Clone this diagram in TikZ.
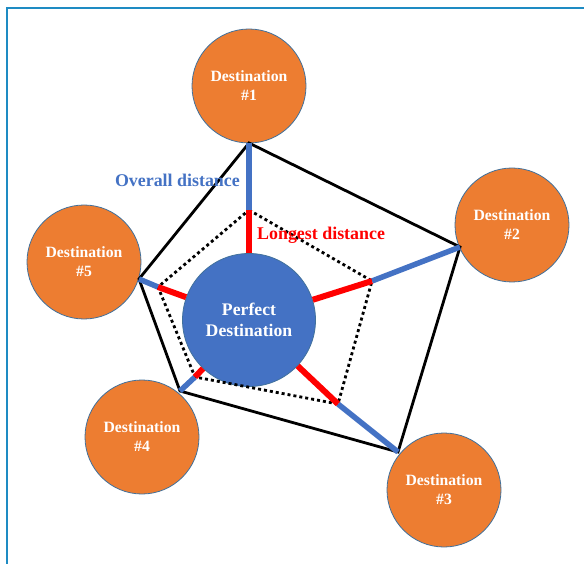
\documentclass[tikz,border=0pt]{standalone}
\usepackage{fontspec}
\setmainfont{Liberation Serif}
\usetikzlibrary{positioning}
\definecolor{destorange}{HTML}{ED7D31}
\definecolor{perfblue}{HTML}{4472C4}
\definecolor{rimblue}{HTML}{41719C}
\definecolor{framecol}{HTML}{1E8BC3}
\tikzset{
  dest/.style={circle, fill=destorange, draw=rimblue, line width=0.8pt,
    minimum size=114pt, inner sep=0pt, align=center, text=white,
    font=\fontsize{15.7}{19}\selectfont\bfseries},
  perfect/.style={circle, fill=perfblue, draw=rimblue, line width=0.8pt,
    minimum size=133pt, inner sep=0pt, align=center, text=white,
    font=\fontsize{17.7}{21.5}\selectfont\bfseries},
  overall/.style={line width=5.5pt, perfblue},
  longest/.style={line width=6pt, red},
  outerline/.style={line width=2.8pt, black, line join=miter},
  innerline/.style={line width=2.8pt, black, dash pattern=on 3pt off 3pt},
  lbl/.style={font=\fontsize{17.9}{20}\selectfont\bfseries, inner sep=0pt},
}

\begin{document}
\begin{tikzpicture}[x=1pt, y=-1pt]
    \useasboundingbox (0,0) rectangle (584,564);
    % frame
    \draw[framecol, line width=2.3pt] (7,564) -- (7,8) -- (584,8);
    % circles
    \node[perfect] (pd) at (249,320) {Perfect\\Destination};
    \node[dest] (d1) at (249,86)  {Destination\\\#1};
    \node[dest] (d2) at (512,225) {Destination\\\#2};
    \node[dest] (d3) at (444,490) {Destination\\\#3};
    \node[dest] (d4) at (142,437) {Destination\\\#4};
    \node[dest] (d5) at (84,262)  {Destination\\\#5};
    % corners of both pentagons
    \coordinate (o1) at (249,143);
    \coordinate (o2) at (460,247);
    \coordinate (o3) at (398,452);
    \coordinate (o4) at (180,391);
    \coordinate (o5) at (139,279);
    \coordinate (i1) at (249,210);
    \coordinate (i2) at (372,281);
    \coordinate (i3) at (338,404);
    \coordinate (i4) at (195,377);
    \coordinate (i5) at (158,287);
    \draw[outerline] (o1) -- (o2) -- (o3) -- (o4) -- (o5) -- cycle;
    \draw[innerline] (i1) -- (i2) -- (i3) -- (i4) -- (i5) -- cycle;
    % distances
    \foreach \k in {1,...,5} {
      \draw[overall] (i\k) -- (o\k);
      \draw[longest] (pd) -- (i\k);
    }
    \node[lbl, perfblue, anchor=base east] (overlbl) at (240,187) {Overall distance};
    \node[lbl, red, anchor=base west] (longlbl) at (257,240) {Longest distance};
\end{tikzpicture}
\end{document}
